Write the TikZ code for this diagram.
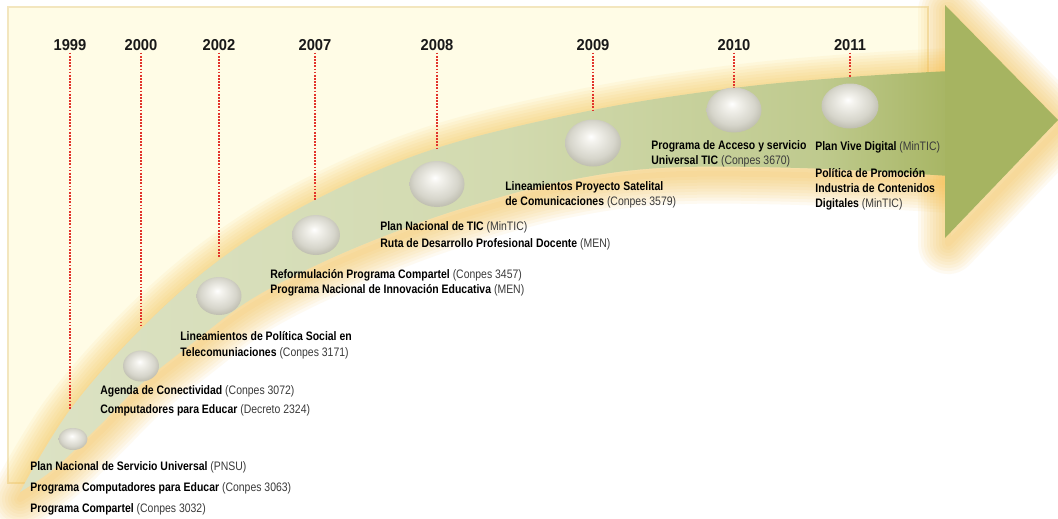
\documentclass[tikz,border=0pt]{standalone}
\usepackage{fontspec}
\setmainfont{Liberation Sans}
\newfontfamily\narrowfont{Liberation Sans}[FakeStretch=0.85]
\newfontfamily\yearfont{Liberation Sans}[FakeStretch=0.93]
\usetikzlibrary{shapes.geometric}
\definecolor{cream}{HTML}{FFFCE6}
\definecolor{panelline}{HTML}{F3E6BE}
\definecolor{bandA}{HTML}{DCE2C4}
\definecolor{bandB}{HTML}{D2DAAF}
\definecolor{bandC}{HTML}{BFCA8E}
\definecolor{bandD}{HTML}{A7B563}
\definecolor{headgreen}{HTML}{A6B461}
\definecolor{glow}{HTML}{F7BE45}
\definecolor{dotred}{HTML}{E2332B}
\definecolor{parcol}{HTML}{3A3A3A}
\definecolor{pearlA}{HTML}{F4F3EE}
\definecolor{pearlB}{HTML}{D6D5CB}
\definecolor{pearlC}{HTML}{B5B4A5}
\pgfdeclarehorizontalshading{bandshade}{100bp}{color(0bp)=(bandA); color(25bp)=(bandA); color(51bp)=(bandB); color(68bp)=(bandC); color(75bp)=(bandD); color(100bp)=(bandD)}
\pgfdeclareradialshading{pearl}{\pgfpoint{-2bp}{7bp}}{color(0bp)=(white); color(5bp)=(pearlA); color(20bp)=(pearlB); color(30bp)=(pearlC); color(40bp)=(pearlC)}
\newcommand\ev[2]{\textbf{#1} {\color{parcol}#2}}
\tikzset{
  band/.style={insert path={plot[smooth,tension=0.6] coordinates {(20,492) (70,410) (143,327) (222,258) (315,200) (437,148) (593,110) (734,88) (850,77) (950,71)}
    -- plot[smooth,tension=0.6] coordinates {(950,176) (800,168) (660,168) (560,182) (470,206) (400,230) (323,262) (250,300) (190,345) (140,385) (100,425) (55,468) (20,492)} -- cycle}},
  head/.style={insert path={(945,5) -- (1058,120) -- (945,238) -- cycle}},
  haze/.style={glow,opacity=0.07,line join=round},
  pearlball/.style={ellipse,shading=pearl,draw=none,inner sep=0pt},
  yr/.style={font=\yearfont\bfseries\fontsize{9}{10}\selectfont,text=black!90,inner sep=1pt},
  tick/.style={dotred,line width=1pt,dash pattern=on 1pt off 0.8pt},
  lbl/.style={font=\narrowfont\fontsize{7}{8.6}\selectfont,align=left,anchor=west,inner sep=0pt}
}
\begin{document}
\begin{tikzpicture}[x=0.02cm,y=-0.02cm]
\useasboundingbox[fill=white] (0,0) rectangle (1058,518);
\begin{scope}
\clip (0,0) -- (1058,0) -- (1058,71) -- plot[smooth,tension=0.6] coordinates {(950,71) (850,77) (734,88) (593,110) (437,148) (315,200) (222,258) (143,327) (70,410) (20,492)} -- (0,492) -- cycle;
\fill[cream,draw=panelline,line width=0.6pt] (8,7) rectangle (928,483);
\end{scope}
\foreach \w in {6,12,...,60}{
  \draw[haze,line width=\w*0.2mm,shift={(0,7)},band];
  \draw[haze,line width=\w*0.2mm,shift={(3,6)},head];
}
\shade[shading=bandshade,band];
\fill[headgreen,head];
\foreach \yr/\lx/\ey/\sx/\sy/\sw/\sh in {1999/70/410/73/439/0.58/0.44,2000/141/326/141/366/0.72/0.62,2002/219/258/219/296/0.90/0.76,2007/315/200/316/235/0.96/0.80,2008/437/148/437/184/1.10/0.92,2009/593/110/593/143/1.12/0.94,2010/734/88/734/110/1.10/0.90,2011/850/77/850/106/1.14/0.90}{
  \node[yr] (y\yr) at (\lx,45) {\yr};
  \coordinate (e\yr) at (\lx,\ey);
  \draw[tick] (y\yr.south) -- (e\yr);
  \node[pearlball,minimum width=\sw cm,minimum height=\sh cm] (s\yr) at (\sx,\sy) {};
}
\node[lbl] (t1999) at (30,488) {\ev{Plan Nacional de Servicio Universal}{(PNSU)}\\[3.3pt]\ev{Programa Computadores para Educar}{(Conpes 3063)}\\[3.3pt]\ev{Programa Compartel}{(Conpes 3032)}};
\node[lbl] (t2000) at (100,401) {\ev{Agenda de Conectividad}{(Conpes 3072)}\\[1.9pt]\ev{Computadores para Educar}{(Decreto 2324)}};
\node[lbl] (t2002) at (180,345) {\textbf{Lineamientos de Política Social en}\\[0.75pt]\ev{Telecomuniaciones}{(Conpes 3171)}};
\node[lbl] (t2007) at (270,283) {\ev{Reformulación Programa Compartel}{(Conpes 3457)}\\[0.2pt]\ev{Programa Nacional de Innovación Educativa}{(MEN)}};
\node[lbl] (t2008) at (380,236) {\ev{Plan Nacional de TIC}{(MinTIC)}\\[1pt]\ev{Ruta de Desarrollo Profesional Docente}{(MEN)}};
\node[lbl] (t2009) at (505,195) {\textbf{Lineamientos Proyecto Satelital}\\\ev{de Comunicaciones}{(Conpes 3579)}};
\node[lbl] (t2010) at (651,154) {\textbf{Programa de Acceso y servicio}\\\ev{Universal TIC}{(Conpes 3670)}};
\node[lbl] (t2011a) at (815,147) {\ev{Plan Vive Digital}{(MinTIC)}};
\node[lbl] (t2011b) at (815,189) {\textbf{Política de Promoción}\\\textbf{Industria de Contenidos}\\\ev{Digitales}{(MinTIC)}};
\end{tikzpicture}
\end{document}
